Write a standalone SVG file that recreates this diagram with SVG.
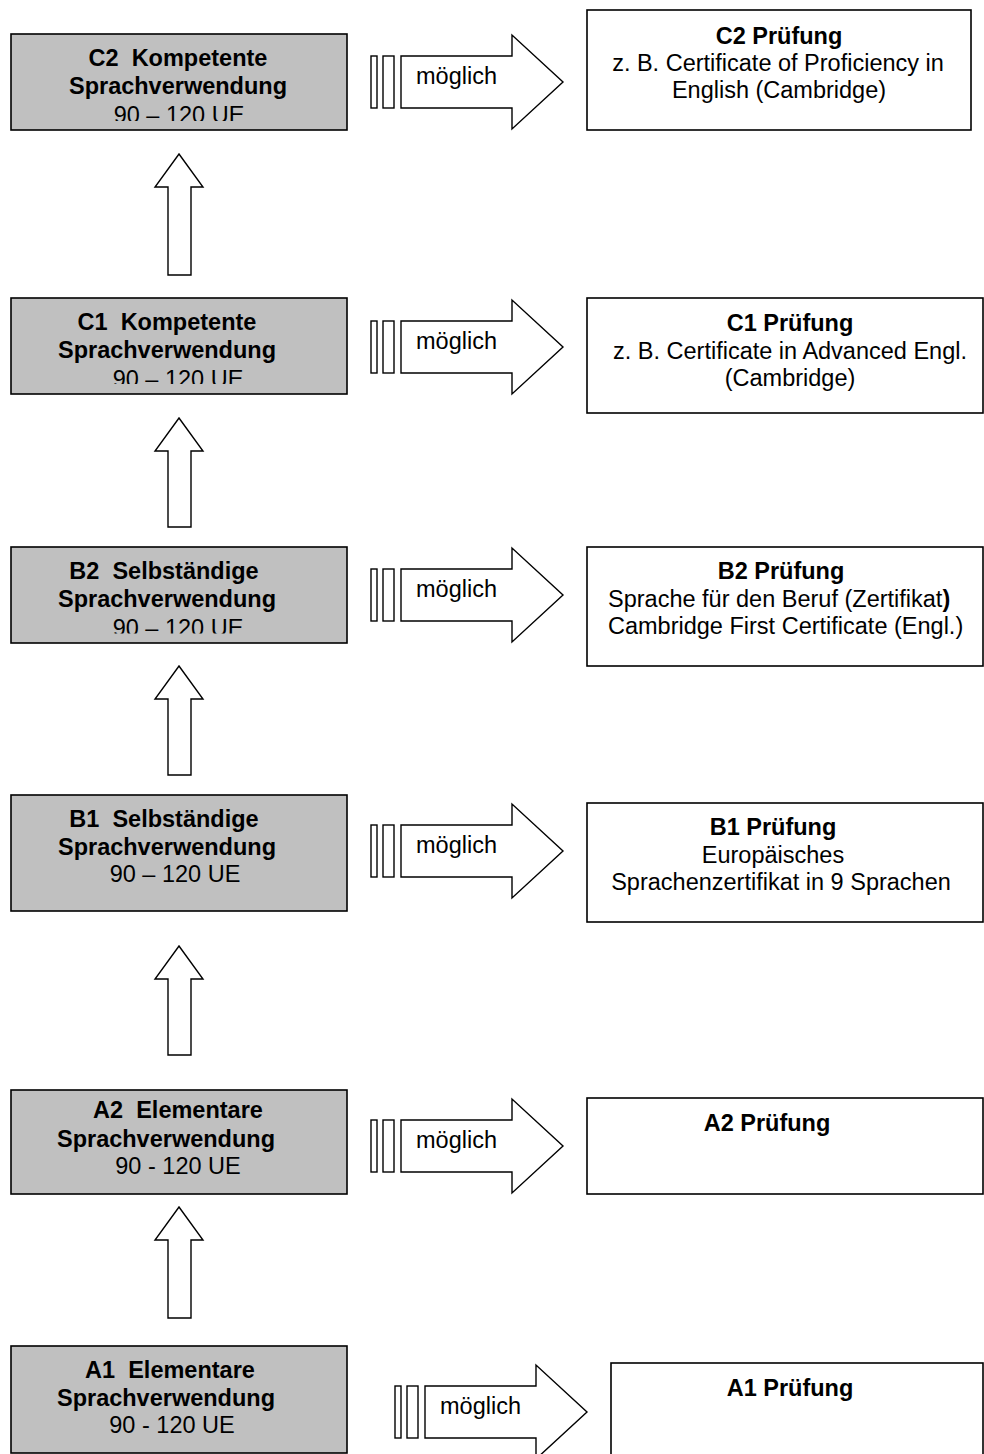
<svg xmlns="http://www.w3.org/2000/svg" width="984" height="1454" viewBox="0 0 984 1454">
<style>
.lvl{fill:#c0c0c0;stroke:#000;stroke-width:1.6}
.exam{fill:#fff;stroke:#000;stroke-width:1.6}
.arr{fill:#fff;stroke:#000;stroke-width:1.4;stroke-linejoin:miter}
text{font-family:"Liberation Sans",Arial,Helvetica,sans-serif;font-size:23.5px;fill:#000}
.b{font-weight:bold}
.m{text-anchor:middle}
</style>
<defs>
<clipPath id="cC2"><rect x="11" y="34" width="336" height="87"/></clipPath>
<clipPath id="cC1"><rect x="11" y="298" width="336" height="86"/></clipPath>
<clipPath id="cB2"><rect x="11" y="547" width="336" height="86.5"/></clipPath>
</defs>

<g id="connectors">
  <g id="up-C1-C2"><polygon class="arr" points="179,154 203,187 191,187 191,275 168,275 168,187 155,187"/></g>
  <g id="up-B2-C1"><polygon class="arr" points="179,418 203,451 191,451 191,527 168,527 168,451 155,451"/></g>
  <g id="up-B1-B2"><polygon class="arr" points="179,666 203,699 191,699 191,775 168,775 168,699 155,699"/></g>
  <g id="up-A2-B1"><polygon class="arr" points="179,946 203,979 191,979 191,1055 168,1055 168,979 155,979"/></g>
  <g id="up-A1-A2"><polygon class="arr" points="179,1207 203,1240 191,1240 191,1318 168,1318 168,1240 155,1240"/></g>

  <g id="to-C2">
    <rect class="arr" x="371" y="56" width="6" height="52"/>
    <rect class="arr" x="383" y="56" width="11" height="52"/>
    <polygon class="arr" points="401,56 512,56 512,35 563,82 512,129 512,108 401,108"/>
    <text x="416" y="84">möglich</text>
  </g>
  <g id="to-C1" transform="translate(0,265)">
    <rect class="arr" x="371" y="56" width="6" height="52"/>
    <rect class="arr" x="383" y="56" width="11" height="52"/>
    <polygon class="arr" points="401,56 512,56 512,35 563,82 512,129 512,108 401,108"/>
    <text x="416" y="84">möglich</text>
  </g>
  <g id="to-B2" transform="translate(0,513)">
    <rect class="arr" x="371" y="56" width="6" height="52"/>
    <rect class="arr" x="383" y="56" width="11" height="52"/>
    <polygon class="arr" points="401,56 512,56 512,35 563,82 512,129 512,108 401,108"/>
    <text x="416" y="84">möglich</text>
  </g>
  <g id="to-B1" transform="translate(0,769)">
    <rect class="arr" x="371" y="56" width="6" height="52"/>
    <rect class="arr" x="383" y="56" width="11" height="52"/>
    <polygon class="arr" points="401,56 512,56 512,35 563,82 512,129 512,108 401,108"/>
    <text x="416" y="84">möglich</text>
  </g>
  <g id="to-A2" transform="translate(0,1064)">
    <rect class="arr" x="371" y="56" width="6" height="52"/>
    <rect class="arr" x="383" y="56" width="11" height="52"/>
    <polygon class="arr" points="401,56 512,56 512,35 563,82 512,129 512,108 401,108"/>
    <text x="416" y="84">möglich</text>
  </g>
  <g id="to-A1" transform="translate(24,1330)">
    <rect class="arr" x="371" y="56" width="6" height="52"/>
    <rect class="arr" x="383" y="56" width="11" height="52"/>
    <polygon class="arr" points="401,56 512,56 512,35 563,82 512,129 512,108 401,108"/>
    <text x="416" y="84">möglich</text>
  </g>
</g>

<g id="level-C2">
  <rect class="lvl" x="11" y="34" width="336" height="96"/>
  <g clip-path="url(#cC2)">
    <text class="b m" x="178" y="66" xml:space="preserve">C2  Kompetente</text>
    <text class="b m" x="178" y="94">Sprachverwendung</text>
    <text class="m" x="179" y="123">90 – 120 UE</text>
  </g>
</g>
<g id="exam-C2">
  <rect class="exam" x="587" y="10" width="384" height="120"/>
  <text class="b m" x="779" y="44">C2 Prüfung</text>
  <text class="m" x="778" y="71">z. B. Certificate of Proficiency in</text>
  <text class="m" x="779" y="98">English (Cambridge)</text>
</g>

<g id="level-C1">
  <rect class="lvl" x="11" y="298" width="336" height="96"/>
  <g clip-path="url(#cC1)">
    <text class="b m" x="167" y="330" xml:space="preserve">C1  Kompetente</text>
    <text class="b m" x="167" y="358">Sprachverwendung</text>
    <text class="m" x="178" y="386.5">90 – 120 UE</text>
  </g>
</g>
<g id="exam-C1">
  <rect class="exam" x="587" y="298" width="396" height="115"/>
  <text class="b m" x="790" y="331">C1 Prüfung</text>
  <text class="m" x="790" y="359">z. B. Certificate in Advanced Engl.</text>
  <text class="m" x="790" y="386">(Cambridge)</text>
</g>

<g id="level-B2">
  <rect class="lvl" x="11" y="547" width="336" height="96"/>
  <g clip-path="url(#cB2)">
    <text class="b m" x="164" y="579" xml:space="preserve">B2  Selbständige</text>
    <text class="b m" x="167" y="607">Sprachverwendung</text>
    <text class="m" x="178" y="636">90 – 120 UE</text>
  </g>
</g>
<g id="exam-B2">
  <rect class="exam" x="587" y="547" width="396" height="119"/>
  <text class="b m" x="781" y="579">B2 Prüfung</text>
  <text x="608" y="607">Sprache für den Beruf (Zertifikat<tspan class="b">)</tspan></text>
  <text x="608" y="634">Cambridge First Certificate (Engl.)</text>
</g>

<g id="level-B1">
  <rect class="lvl" x="11" y="795" width="336" height="116"/>
  <text class="b m" x="164" y="827" xml:space="preserve">B1  Selbständige</text>
  <text class="b m" x="167" y="855">Sprachverwendung</text>
  <text class="m" x="175" y="882">90 – 120 UE</text>
</g>
<g id="exam-B1">
  <rect class="exam" x="587" y="803" width="396" height="119"/>
  <text class="b m" x="773" y="835">B1 Prüfung</text>
  <text class="m" x="773" y="863">Europäisches</text>
  <text class="m" x="781" y="890">Sprachenzertifikat in 9 Sprachen</text>
</g>

<g id="level-A2">
  <rect class="lvl" x="11" y="1090" width="336" height="104"/>
  <text class="b m" x="178" y="1118" xml:space="preserve">A2  Elementare</text>
  <text class="b m" x="166" y="1147">Sprachverwendung</text>
  <text class="m" x="178" y="1174">90 - 120 UE</text>
</g>
<g id="exam-A2">
  <rect class="exam" x="587" y="1098" width="396" height="96"/>
  <text class="b m" x="767" y="1131">A2 Prüfung</text>
</g>

<g id="level-A1">
  <rect class="lvl" x="11" y="1346" width="336" height="107"/>
  <text class="b m" x="170" y="1378" xml:space="preserve">A1  Elementare</text>
  <text class="b m" x="166" y="1406">Sprachverwendung</text>
  <text class="m" x="172" y="1433">90 - 120 UE</text>
</g>
<g id="exam-A1">
  <rect class="exam" x="611" y="1363" width="372" height="100"/>
  <text class="b m" x="790" y="1396">A1 Prüfung</text>
</g>
</svg>
